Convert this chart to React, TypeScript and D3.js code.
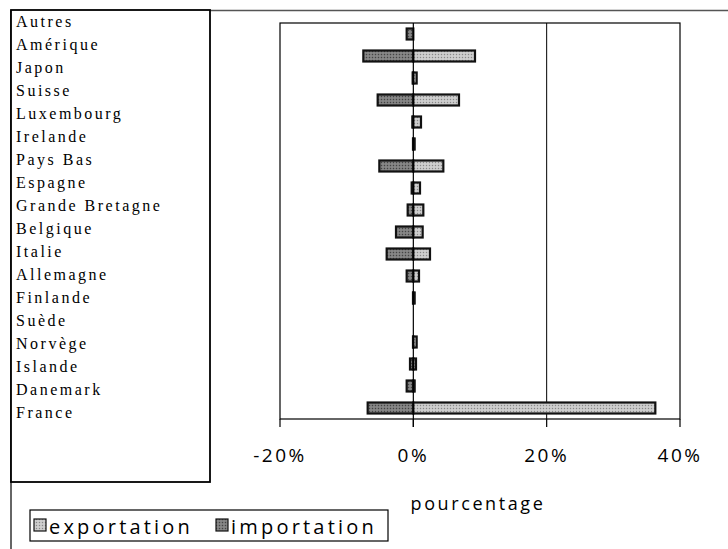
import React from "react";
import * as d3 from "d3";

const categories = [
  "Autres", "Amérique", "Japon", "Suisse", "Luxembourg", "Irelande", "Pays Bas",
  "Espagne", "Grande Bretagne", "Belgique", "Italie", "Allemagne", "Finlande",
  "Suède", "Norvège", "Islande", "Danemark", "France",
];
const exportation = [0, 9.25, 0.5, 6.85, 1.15, 0.2, 4.5, 1.0, 1.5, 1.4, 2.5, 0.85, 0.2, 0, 0.5, 0.4, 0.2, 36.3];
const importation = [-1.0, -7.5, -0.1, -5.35, -0.15, -0.05, -5.1, -0.25, -0.85, -2.6, -4.0, -1.0, -0.05, 0, -0.05, -0.5, -1.0, -6.85];
const ticks = [-20, 0, 20, 40];
const series = ["exportation", "importation"];

export default function App() {
  const W = 728, H = 549;
  const x = d3.scaleLinear().domain([-20, 40]).range([280, 680]);
  const y = d3.scaleBand<string>().domain(categories).range([23, 419]).paddingInner(0.5).paddingOuter(0.25);
  const labelY = d3.scalePoint<string>().domain(categories).range([27, 418]);
  const sansFont = "'Open Sans', 'DejaVu Sans', sans-serif";
  return (
    <svg width={W} height={H} style={{ position: "absolute", left: 0, top: 0, background: "#fff" }}>
      <defs>
        <pattern id="pExp" width="3" height="3" patternUnits="userSpaceOnUse">
          <rect width="3" height="3" fill="#c4c4c4" />
          <rect width="1" height="1" fill="#888" />
          <rect x="1.5" y="1.5" width="1" height="1" fill="#eee" />
        </pattern>
        <pattern id="pImp" width="3" height="3" patternUnits="userSpaceOnUse">
          <rect width="3" height="3" fill="#7a7a7a" />
          <rect width="1" height="1" fill="#444" />
          <rect x="1.5" y="1.5" width="1" height="1" fill="#a8a8a8" />
        </pattern>
      </defs>
      {/* outer frame */}
      <line x1={210} x2={728} y1={10.5} y2={10.5} stroke="#555" strokeWidth={1.5} />
      <line x1={11} x2={11} y1={10} y2={549} stroke="#333" strokeWidth={1.5} />
      {/* category box */}
      <rect x={11} y={10} width={199} height={472} fill="#fff" stroke="#000" strokeWidth={1.8} />
      {categories.map((c) => (
        <text key={c} x={16} y={labelY(c)} fontFamily="'Liberation Serif', 'Times New Roman', serif"
          fontSize={16} letterSpacing={2.5} fill="#000">{c}</text>
      ))}
      {/* plot frame */}
      <rect x={280} y={23} width={400} height={396} fill="none" stroke="#000" strokeWidth={1.2} />
      <line x1={x(20)} x2={x(20)} y1={23} y2={419} stroke="#000" strokeWidth={1} />
      {/* bars */}
      {categories.map((c, i) => (
        <g key={c}>
          {importation[i] !== 0 && (
            <rect x={x(importation[i])} y={y(c)} width={x(0) - x(importation[i])} height={y.bandwidth()}
              fill="url(#pImp)" stroke="#111" strokeWidth={2.2} />
          )}
          {exportation[i] !== 0 && (
            <rect x={x(0)} y={y(c)} width={x(exportation[i]) - x(0)} height={y.bandwidth()}
              fill="url(#pExp)" stroke="#111" strokeWidth={2.2} />
          )}
        </g>
      ))}
      <line x1={x(0)} x2={x(0)} y1={23} y2={427} stroke="#000" strokeWidth={1.2} />
      {ticks.map((t) => (
        <g key={t}>
          <line x1={x(t)} x2={x(t)} y1={419} y2={427} stroke="#000" strokeWidth={1.2} />
          <text x={x(t)} y={462} textAnchor="middle" fontFamily={sansFont} fontSize={19} letterSpacing={2.5} fill="#000">
            {`${t}%`}
          </text>
        </g>
      ))}
      <text x={478} y={510} textAnchor="middle" fontFamily={sansFont} fontSize={18} letterSpacing={2.6} fill="#000">pourcentage</text>
      {/* legend */}
      <rect x={30} y={510} width={358} height={31} fill="#fff" stroke="#000" strokeWidth={1.2} />
      {series.map((s, i) => {
        const lx = i === 0 ? 34 : 216;
        return (
          <g key={s}>
            <rect x={lx} y={519} width={12} height={12} fill={i === 0 ? "url(#pExp)" : "url(#pImp)"} stroke="#111" strokeWidth={1.2} />
            <text x={lx + 15} y={534} fontFamily={sansFont} fontSize={20} letterSpacing={3.2} fill="#000">{s}</text>
          </g>
        );
      })}
    </svg>
  );
}
